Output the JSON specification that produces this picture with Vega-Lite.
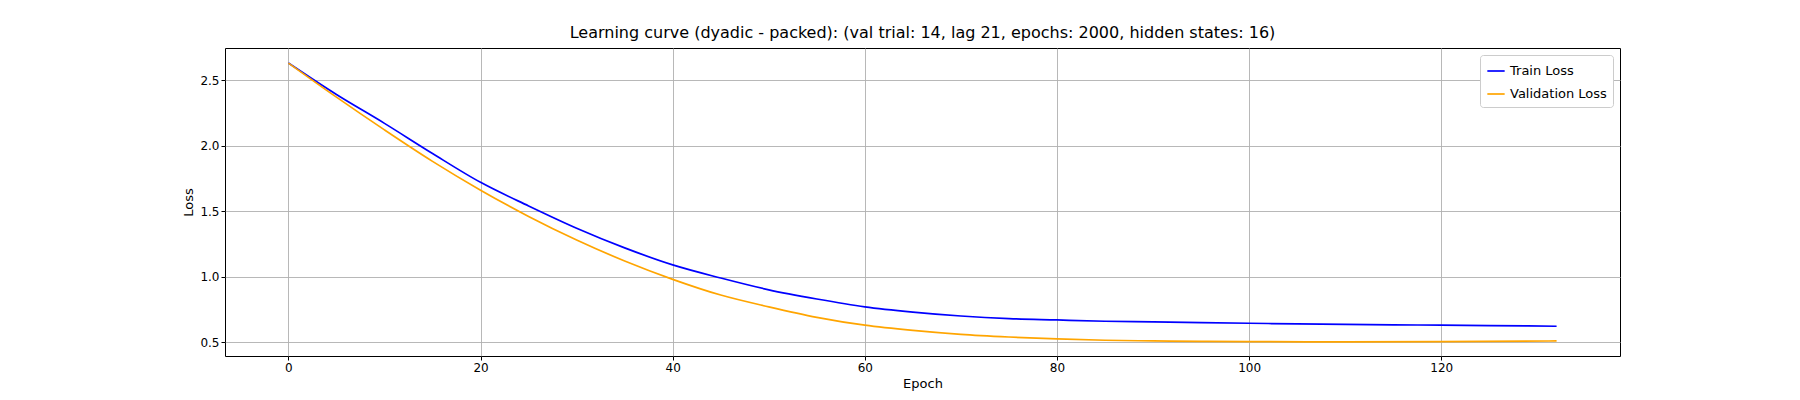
{
  "$schema": "https://vega.github.io/schema/vega-lite/v6.json",
  "autosize": "none",
  "width": 1395,
  "height": 308,
  "padding": {"left": 225, "top": 48, "right": 180, "bottom": 44},
  "background": "white",
  "title": {"text": "Learning curve (dyadic - packed): (val trial: 14, lag 21, epochs: 2000, hidden states: 16)", "fontSize": 16, "fontWeight": "normal", "font": "DejaVu Sans", "offset": 7},
  "data": {"values": [
    {"epoch":0,"s":"Train Loss","loss":2.63},{"epoch":5,"s":"Train Loss","loss":2.39},{"epoch":10,"s":"Train Loss","loss":2.17},{"epoch":15,"s":"Train Loss","loss":1.94},{"epoch":20,"s":"Train Loss","loss":1.72},{"epoch":25,"s":"Train Loss","loss":1.54},{"epoch":30,"s":"Train Loss","loss":1.37},{"epoch":35,"s":"Train Loss","loss":1.22},{"epoch":40,"s":"Train Loss","loss":1.09},{"epoch":45,"s":"Train Loss","loss":0.99},{"epoch":50,"s":"Train Loss","loss":0.9},{"epoch":55,"s":"Train Loss","loss":0.83},{"epoch":60,"s":"Train Loss","loss":0.77},{"epoch":65,"s":"Train Loss","loss":0.73},{"epoch":70,"s":"Train Loss","loss":0.7},{"epoch":75,"s":"Train Loss","loss":0.68},{"epoch":80,"s":"Train Loss","loss":0.67},{"epoch":85,"s":"Train Loss","loss":0.66},{"epoch":90,"s":"Train Loss","loss":0.655},{"epoch":95,"s":"Train Loss","loss":0.65},{"epoch":100,"s":"Train Loss","loss":0.645},{"epoch":105,"s":"Train Loss","loss":0.64},{"epoch":110,"s":"Train Loss","loss":0.637},{"epoch":115,"s":"Train Loss","loss":0.633},{"epoch":120,"s":"Train Loss","loss":0.63},{"epoch":125,"s":"Train Loss","loss":0.627},{"epoch":132,"s":"Train Loss","loss":0.622},
    {"epoch":0,"s":"Validation Loss","loss":2.63},{"epoch":5,"s":"Validation Loss","loss":2.37},{"epoch":10,"s":"Validation Loss","loss":2.12},{"epoch":15,"s":"Validation Loss","loss":1.88},{"epoch":20,"s":"Validation Loss","loss":1.66},{"epoch":25,"s":"Validation Loss","loss":1.46},{"epoch":30,"s":"Validation Loss","loss":1.28},{"epoch":35,"s":"Validation Loss","loss":1.12},{"epoch":40,"s":"Validation Loss","loss":0.98},{"epoch":45,"s":"Validation Loss","loss":0.86},{"epoch":50,"s":"Validation Loss","loss":0.77},{"epoch":55,"s":"Validation Loss","loss":0.69},{"epoch":60,"s":"Validation Loss","loss":0.63},{"epoch":65,"s":"Validation Loss","loss":0.59},{"epoch":70,"s":"Validation Loss","loss":0.56},{"epoch":75,"s":"Validation Loss","loss":0.54},{"epoch":80,"s":"Validation Loss","loss":0.525},{"epoch":85,"s":"Validation Loss","loss":0.515},{"epoch":90,"s":"Validation Loss","loss":0.51},{"epoch":95,"s":"Validation Loss","loss":0.507},{"epoch":100,"s":"Validation Loss","loss":0.505},{"epoch":110,"s":"Validation Loss","loss":0.503},{"epoch":120,"s":"Validation Loss","loss":0.505},{"epoch":132,"s":"Validation Loss","loss":0.51}
  ]},
  "mark": {"type": "line", "strokeWidth": 1.7, "interpolate": "monotone"},
  "encoding": {
    "x": {"field": "epoch", "type": "quantitative", "title": "Epoch", "scale": {"domain": [-6.6, 138.6], "nice": false, "zero": false}, "axis": {"values": [0,20,40,60,80,100,120]}},
    "y": {"field": "loss", "type": "quantitative", "title": "Loss", "scale": {"domain": [0.395, 2.745], "nice": false, "zero": false}, "axis": {"values": [0.5,1.0,1.5,2.0,2.5], "format": ".1f"}},
    "color": {"field": "s", "type": "nominal", "title": null, "scale": {"domain": ["Train Loss","Validation Loss"], "range": ["blue","orange"]},
      "legend": {"orient": "top-right", "symbolType": "stroke", "symbolStrokeWidth": 1.7, "symbolSize": 300, "labelFontSize": 13, "rowPadding": 6, "strokeColor": "#cccccc", "fillColor": "white", "padding": 6, "cornerRadius": 3, "offset": 7}}
  },
  "config": {
    "font": "DejaVu Sans",
    "view": {"stroke": "black", "strokeWidth": 1},
    "axis": {"grid": true, "gridColor": "#b0b0b0", "gridWidth": 0.9, "domain": false, "tickColor": "black", "tickSize": 4, "labelFontSize": 12, "titleFontSize": 13, "titleFontWeight": "normal", "labelColor": "black", "titleColor": "black"}
  }
}
